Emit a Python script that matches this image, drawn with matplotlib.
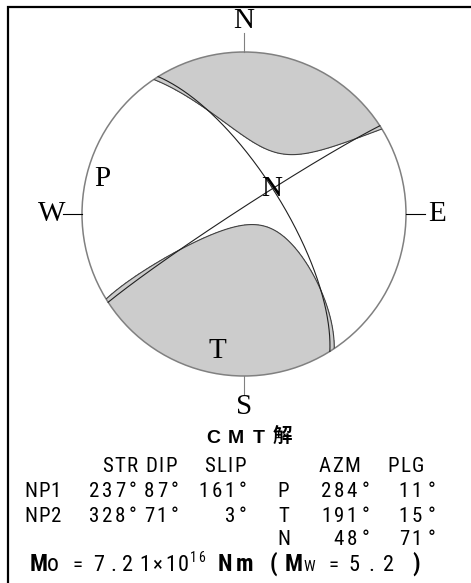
import numpy as np
import matplotlib
matplotlib.use("Agg")
import matplotlib.pyplot as plt
from matplotlib import font_manager
from matplotlib.font_manager import FontProperties
from matplotlib.patches import Circle

# CMT solution
NP1 = [237, 87, 161]          # strike, dip, slip
NP2 = [328, 71, 3]
AXIS_NAMES = ["P", "T", "N"]
AXIS_AZM = [284, 191, 48]
AXIS_PLG = [11, 15, 71]
EIGEN = [-0.885, 1.0, -0.115]  # relative eigenvalues for P, T, N
MO_MANT = 7.21
MO_EXP = 16
MW = 5.2

SERIF = "Liberation Serif"


def find_font(*names):
    files = {f.fname.split("/")[-1].lower(): f.fname
             for f in font_manager.fontManager.ttflist}
    for n in names:
        if n.lower() in files:
            return files[n.lower()]
    return None


# a condensed sans for the table; plain Liberation Sans at a smaller size otherwise
REG = find_font("LiberationSansNarrow-Regular.ttf", "RobotoCondensed-Regular.ttf",
                "DejaVuSansCondensed.ttf")
BOLD = find_font("LiberationSansNarrow-Bold.ttf", "RobotoCondensed-Bold.ttf",
                 "DejaVuSansCondensed-Bold.ttf")
SCALE = 1.0
if "dejavu" in str(REG).lower():
    SCALE = 0.92
if REG is None or BOLD is None:
    REG = BOLD = None
    SCALE = 0.84


def fprop(size, bold=False):
    path = BOLD if bold else REG
    if path is None:
        return FontProperties(family="Liberation Sans", size=size * SCALE,
                              weight="bold" if bold else "normal")
    return FontProperties(fname=path, size=size * SCALE)


fig = plt.figure(figsize=(4.71, 5.83), dpi=100)
ax = fig.add_axes([0, 0, 1, 1])
ax.set_xlim(0, 471)
ax.set_ylim(583, 0)
ax.axis("off")
renderer = fig.canvas.get_renderer()


def tracked(x, y, s, size, track=2.5, ha="left", bold=False, fp=None):
    # draw a string one glyph at a time with extra letter spacing
    parts = []
    for ch in s:
        t = ax.text(0, y, ch, va="baseline", ha="left",
                    fontproperties=fp if fp is not None else fprop(size, bold))
        parts.append((t, t.get_window_extent(renderer).width))
    total = sum(w for _, w in parts) + track * (len(parts) - 1)
    if ha == "right":
        x -= total
    elif ha == "center":
        x -= total / 2
    for t, w in parts:
        t.set_x(x)
        x += w + track
    return x


def axis_vec(azm, plg):
    a, p = np.radians(azm), np.radians(plg)
    return np.array([np.cos(p) * np.cos(a), np.cos(p) * np.sin(a), np.sin(p)])


def project(v):
    # lower hemisphere, equal-area
    v = np.asarray(v, dtype=float)
    v = np.where(v[2] < 0, -v, v)
    theta = np.arccos(np.clip(v[2], -1, 1))
    r = np.sqrt(2) * np.sin(theta / 2)
    az = np.arctan2(v[1], v[0])
    return r * np.sin(az), r * np.cos(az)


def plane_trace(strike, dip):
    s, d = np.radians(strike), np.radians(dip)
    sv = np.array([np.cos(s), np.sin(s), 0.0])
    dv = np.array([np.cos(d) * np.cos(s + np.pi / 2),
                   np.cos(d) * np.sin(s + np.pi / 2), np.sin(d)])
    alpha = np.linspace(0, np.pi, 400)
    pts = np.outer(np.cos(alpha), sv) + np.outer(np.sin(alpha), dv)
    return project(pts.T)


# outer frame
ax.plot([7.5, 7.5, 480], [600, 6.5, 6.5], color="black", lw=1.6,
        solid_joinstyle="miter", clip_on=False)

# beachball axes: unit circle, centre at (244, 214) px, radius 162 px
R_PX, CX, CY, L = 162, 244, 214, 1.3
W, H = 471, 583
bb = fig.add_axes([(CX - L * R_PX) / W, (H - CY - L * R_PX) / H,
                   2 * L * R_PX / W, 2 * L * R_PX / H])
bb.set_xlim(-L, L)
bb.set_ylim(-L, L)
bb.axis("off")
bb.patch.set_alpha(0)

g = np.linspace(-1.05, 1.05, 801)
X, Y = np.meshgrid(g, g)
Rr = np.clip(np.hypot(X, Y), 0, np.sqrt(2))
theta = 2 * np.arcsin(Rr / np.sqrt(2))
phi = np.arctan2(X, Y)
vN = np.sin(theta) * np.cos(phi)
vE = np.sin(theta) * np.sin(phi)
vD = np.cos(theta)
amp = np.zeros_like(X)
for lam, azm, plg in zip(EIGEN, AXIS_AZM, AXIS_PLG):
    a = axis_vec(azm, plg)
    amp += lam * (vN * a[0] + vE * a[1] + vD * a[2]) ** 2

clip = Circle((0, 0), 1, transform=bb.transData)
cf = bb.contourf(X, Y, amp, levels=[0, amp.max() + 1], colors=["#cccccc"])
cl = bb.contour(X, Y, amp, levels=[0], colors=["#404040"], linewidths=0.8)
cf.set_clip_path(clip)
cl.set_clip_path(clip)

for strike, dip, _ in (NP1, NP2):
    px, py = plane_trace(strike, dip)
    bb.plot(px, py, color="#202020", lw=0.8)

bb.add_patch(Circle((0, 0), 1, fill=False, ec="#808080", lw=1.1))

# compass ticks and labels
for (dx, dy), lab, tc in [((0, 1), "N", "#808080"), ((0, -1), "S", "#808080"),
                          ((-1, 0), "W", "black"), ((1, 0), "E", "black")]:
    bb.plot([dx, dx * 1.12], [dy, dy * 1.12], color=tc, lw=0.8)
    bb.text(dx * 1.19, dy * 1.19, lab, fontsize=21, family=SERIF,
            ha="center", va="center")

for name, azm, plg in zip(AXIS_NAMES, AXIS_AZM, AXIS_PLG):
    px, py = project(axis_vec(azm, plg))
    bb.text(px, py, name, fontsize=21, family=SERIF, ha="center", va="center")

# solution table
tracked(249, 443, "CMT解", 14, track=8, ha="center",
        fp=FontProperties(family=["Liberation Sans", "Noto Sans CJK JP"],
                          size=14, weight="bold"))

for xc, s in [(120, "STR"), (161, "DIP"), (225, "SLIP"), (339, "AZM"), (406, "PLG")]:
    tracked(xc, 472, s, 15, track=1.5, ha="center")

rows_y = [497, 522, 545]
for y, name, plane in zip(rows_y, ["NP1", "NP2"], [NP1, NP2]):
    tracked(42.5, y, name, 15, track=1.0, ha="center")
    for val, xr in zip(plane, [125, 167, 235]):
        tracked(xr, y, str(val), 15, ha="right")
        tracked(xr + 4, y, "°", 15)

for y, name, azm, plg in zip(rows_y, AXIS_NAMES, AXIS_AZM, AXIS_PLG):
    tracked(283.5, y, name, 15, ha="center")
    tracked(357, y, str(azm), 15, ha="right")
    tracked(362, y, "°", 15)
    tracked(422, y, str(plg), 15, ha="right")
    tracked(428, y, "°", 15)

# seismic moment line
yb = 571
tracked(30, yb, "M", 17, bold=True)
tracked(47, yb, "o", 17)
tracked(73, yb, "=", 15)
tracked(93, yb, f"{MO_MANT:.2f}", 16, track=6)
tracked(152, yb, "×", 15)
tracked(165, yb, "10", 16, track=2)
tracked(190, yb - 9, str(MO_EXP), 10, track=1)
tracked(218, yb, "Nm", 17, track=3, bold=True)
tracked(270, yb, "(", 17, bold=True)
tracked(285, yb, "M", 17, bold=True)
tracked(303, yb, "W", 11)
tracked(328, yb, "=", 15)
tracked(348, yb, f"{MW:.1f}", 16, track=9)
tracked(412, yb, ")", 17, bold=True)

fig.savefig("out.png", dpi=100)
